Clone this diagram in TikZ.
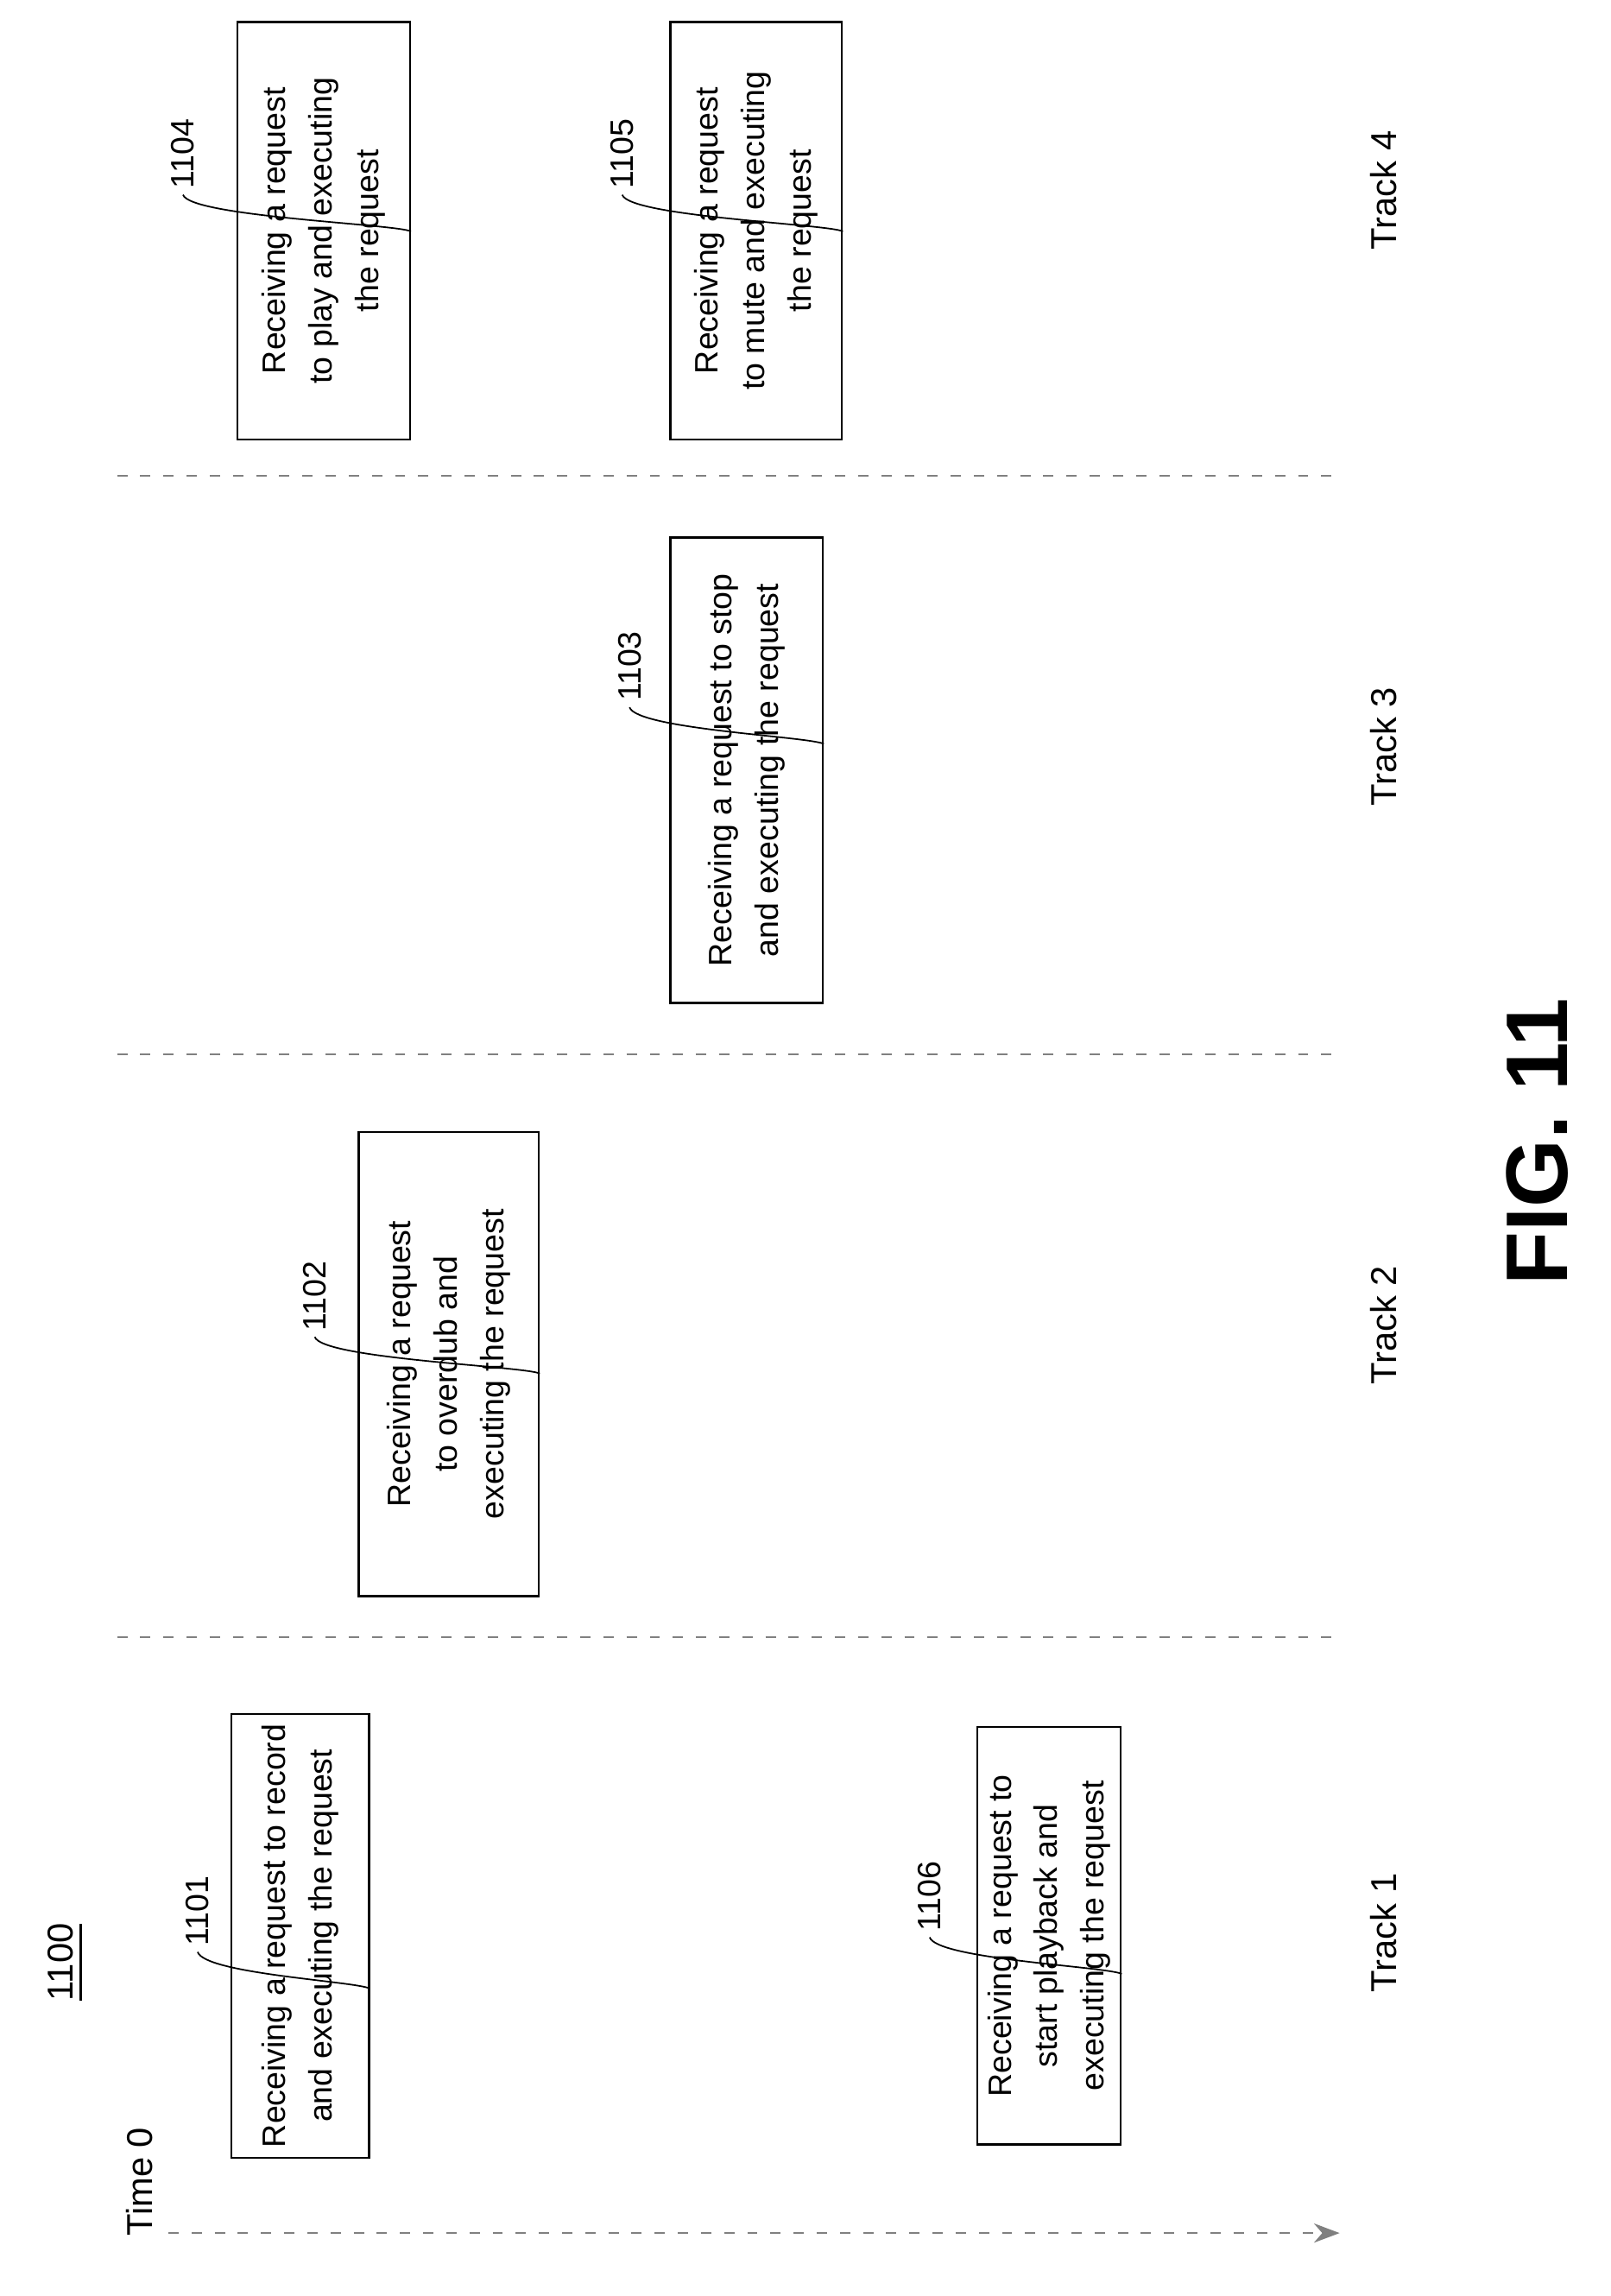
\documentclass[tikz,border=0pt]{standalone}
\usepackage{fontspec}
\setmainfont{Liberation Sans}
\usetikzlibrary{arrows.meta}
\tikzset{
  stepbox/.style={draw, rotate=90, align=center, font=\fontsize{6.3}{9}\selectfont, inner sep=2pt},
  reflabel/.style={rotate=90, font=\fontsize{6.3}{8}\selectfont, inner sep=1pt},
  tracklabel/.style={rotate=90, font=\fontsize{7}{8}\selectfont},
  divider/.style={dashed, gray, line width=0.3pt, dash pattern=on 2pt off 2.5pt}
}
\begin{document}
\begin{tikzpicture}[x=1cm,y=1cm]
\useasboundingbox (0,0) rectangle (11,-15.68);

% title and time axis
\node[reflabel, font=\fontsize{7}{8}\selectfont] (fignum) at (0.45,-13.4) {\underline{1100}};
\node[reflabel, font=\fontsize{7}{8}\selectfont] (time) at (0.95,-14.9) {Time 0};
\coordinate (tstart) at (1.15,-15.25);
\coordinate (tend) at (9.15,-15.25);
\draw[divider, -{Stealth[length=5pt]}] (tstart) -- (tend);

% track dividers
\draw[divider] (0.8,-11.18) -- (9.15,-11.18);
\draw[divider] (0.8,-7.2) -- (9.15,-7.2);
\draw[divider] (0.8,-3.25) -- (9.15,-3.25);

\node[tracklabel] (t1) at (9.45,-13.2) {Track 1};
\node[tracklabel] (t2) at (9.45,-9.05) {Track 2};
\node[tracklabel] (t3) at (9.45,-5.1) {Track 3};
\node[tracklabel] (t4) at (9.45,-1.3) {Track 4};

% request boxes
\node[stepbox, minimum width=2.85cm, minimum height=0.94cm] (b1101) at (2.05,-13.22) {Receiving a request to record\\and executing the request};
\node[stepbox, minimum width=2.85cm, minimum height=0.97cm] (b1106) at (7.165,-13.22) {Receiving a request to\\start playback and\\executing the request};
\node[stepbox, minimum width=3.17cm, minimum height=1.23cm] (b1102) at (3.065,-9.315) {Receiving a request\\to overdub and\\executing the request};
\node[stepbox, minimum width=3.18cm, minimum height=1.04cm] (b1103) at (5.1,-5.26) {Receiving a request to stop\\and executing the request};
\node[stepbox, minimum width=2.85cm, minimum height=1.18cm] (b1104) at (2.21,-1.575) {Receiving a request\\to play and executing\\the request};
\node[stepbox, minimum width=2.85cm, minimum height=1.17cm] (b1105) at (5.165,-1.575) {Receiving a request\\to mute and executing\\the request};

% reference numbers
\node[reflabel] (r1101) at (1.35,-13.05) {1101};
\node[reflabel] (r1106) at (6.35,-12.95) {1106};
\node[reflabel] (r1102) at (2.15,-8.85) {1102};
\node[reflabel] (r1103) at (4.3,-4.55) {1103};
\node[reflabel] (r1104) at (1.25,-1.05) {1104};
\node[reflabel] (r1105) at (4.25,-1.05) {1105};
\foreach \r/\b in {r1101/b1101, r1106/b1106, r1102/b1102, r1103/b1103, r1104/b1104, r1105/b1105}
  \draw[line width=0.3pt] (\r.west) .. controls ++(0.05,-0.15) and ++(-0.1,0.05) .. ([yshift=-0.25cm]\r.west -| \b.south);

\node[rotate=90, font=\bfseries\fontsize{17}{18}\selectfont] (fig) at (10.5,-7.8) {FIG. 11};
\end{tikzpicture}
\end{document}
